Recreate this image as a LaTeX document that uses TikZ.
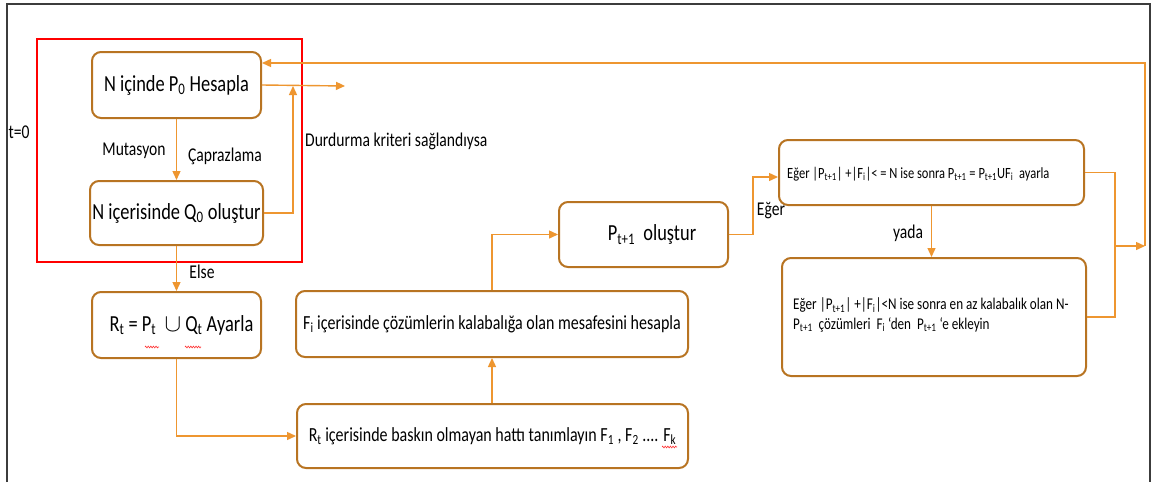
\documentclass[tikz,border=0pt]{standalone}
\usepackage{fontspec}
\setmainfont{Carlito}[FakeStretch=0.8]
\usetikzlibrary{arrows.meta,decorations.pathmorphing}
\definecolor{boxc}{RGB}{184,116,34}
\definecolor{arrc}{RGB}{238,150,48}
\definecolor{framec}{RGB}{60,60,60}
\newcommand\fbig{\fontsize{23}{27}\selectfont}
\newcommand\fmid{\fontsize{20}{24}\selectfont}
\newcommand\flab{\fontsize{19.5}{23}\selectfont}
\newcommand\fsml{\fontsize{15.6}{19}\selectfont}
\newcommand\fsmm{\fontsize{16.4}{19.5}\selectfont}
\newcommand\sub[1]{\textsubscript{#1}}
\tikzset{
  box/.style={draw=boxc,line width=2pt,rounded corners=9pt,align=center,inner sep=0pt},
  ln/.style={draw=arrc,line width=1.4pt},
  arr/.style={ln,-{Triangle[length=9pt,width=8pt]}},
  lab/.style={inner sep=0pt,font=\flab},
  squig/.style={draw=red!80!white,line width=0.6pt,decorate,decoration={zigzag,amplitude=0.9pt,segment length=2.6pt}}
}
\begin{document}
\begin{tikzpicture}[x=1pt,y=-1pt]
\useasboundingbox (0,0) rectangle (1156,482);
\fill[white] (0,0) rectangle (1156,482);
% frame
\draw[framec,line width=2pt] (7,482) -- (7,4) -- (1150,4) -- (1150,482);
% red box
\draw[red,line width=2pt] (37,39) rectangle (302,262);
% boxes
\node[box,minimum width=169pt,minimum height=66pt,font=\fbig] (b1) at (176.5,85) {N içinde P\sub{0} Hesapla};
\node[box,minimum width=173pt,minimum height=64pt,font=\fbig] (b2) at (176.5,213) {N içerisinde Q\sub{0} oluştur};
\node[box,minimum width=169pt,minimum height=66pt,font=\fbig] (b3) at (176.5,325) {\hspace*{10pt}R\sub{t} = P\sub{t}\ \ $\cup$ Q\sub{t} Ayarla};
\node[box,minimum width=392pt,minimum height=66pt,font=\fmid] (b4) at (492,324) {F\sub{i} içerisinde çözümlerin kalabalığa olan mesafesini hesapla};
\node[box,minimum width=391pt,minimum height=64pt,font=\fmid] (b5) at (492.5,436) {R\sub{t} içerisinde baskın olmayan hattı tanımlayın F\sub{1} , F\sub{2} .... F\sub{k}};
\node[box,minimum width=169pt,minimum height=65pt,font=\fbig] (b6) at (643.5,234.5) {\hspace*{17pt}P\sub{t+1}\ \ oluştur};
\node[box,minimum width=305pt,minimum height=65pt] (b7) at (931.5,172.5) {};
\node[anchor=west,inner sep=0pt,font=\fsml] (t7) at (787,174) {Eğer |P\sub{t+1}| +|F\sub{i}|< = N ise sonra P\sub{t+1} = P\sub{t+1}UF\sub{i}\ \ ayarla};
\node[box,minimum width=304pt,minimum height=118pt] (b8) at (934,317) {};
\node[anchor=west,inner sep=0pt,font=\fsmm,align=left] (t8) at (793,315) {Eğer |P\sub{t+1}| +|F\sub{i}|<N ise sonra en az kalabalık olan N-\\P\sub{t+1}\ \ çözümleri\ \ F\sub{i} ‘den\ \ P\sub{t+1} ‘e ekleyin};
% spell-check marks
\draw[squig] (145,347) -- (159,347);
\draw[squig] (185,347) -- (201,347);
\draw[squig] (662,447) -- (677,447);
% labels
\node[lab] (l0) at (19,132) {t=0};
\node[lab] (l1) at (134,151) {Mutasyon};
\node[lab] (l2) at (225,156) {Çaprazlama};
\node[lab,anchor=west] (l3) at (305,141) {Durdurma kriteri sağlandıysa};
\node[lab] (l4) at (202,272) {Else};
\node[lab] (l5) at (771,211) {Eğer};
\node[lab] (l6) at (908,233) {yada};
% coordinates
\coordinate (c1) at (293,86);
\coordinate (c2) at (345,86);
\coordinate (c3) at (1145,246);
\coordinate (c4) at (1145,63);
\coordinate (c5) at (1115,246);
\coordinate (c6) at (753,177);
% connectors
\draw[arr] (b1.south) -- (b2.north);
\draw[arr] (b1.east) -- (c2);
\draw[arr] (b2.east) -| (c1);
\draw[arr] (c3) -- (c4) -- (c4 -| b1.east);
\draw[ln] (b7.east) -| (c5) |- (b8.east);
\draw[arr] (c5) -- (c3);
\draw[arr] (b7.south) -- (b7.south |- b8.north);
\draw[arr] (b6.east) -| (c6) -- (c6 -| b7.west);
\draw[arr] (b2.south) -- (b3.north);
\draw[arr] (b3.south) |- (b5.west);
\draw[arr] (b5.north -| b4.south) -- (b4.south);
\draw[arr] (b4.north) |- (b6.west);
\end{tikzpicture}
\end{document}
